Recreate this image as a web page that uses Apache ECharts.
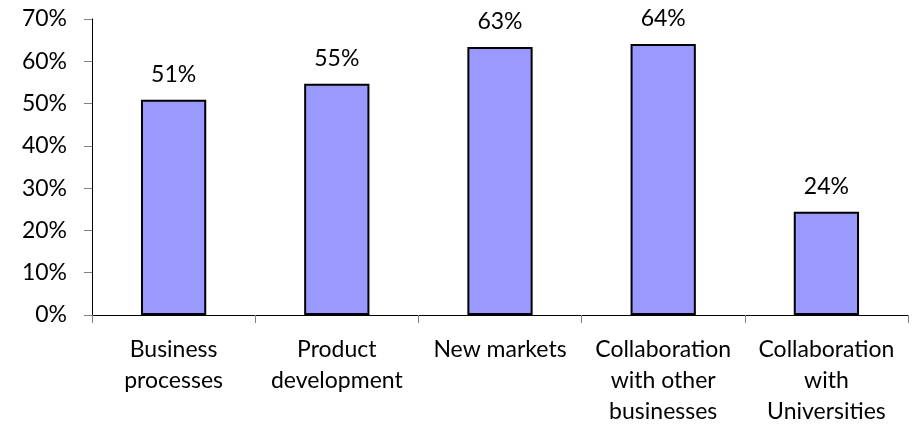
<!DOCTYPE html>
<html><head><meta charset="utf-8">
<script src="https://cdn.jsdelivr.net/npm/echarts@6/dist/echarts.min.js"></script>
<style>html,body{margin:0;padding:0;background:#fff}#c{width:914px;height:427px}</style>
</head><body><div id="c"></div>
<script>
const categories = ["Business\nprocesses", "Product\ndevelopment", "New markets", "Collaboration\nwith other\nbusinesses", "Collaboration\nwith\nUniversities"];
const values = [50.9, 54.7, 63.4, 64.1, 24.4];
const yTicks = [0, 10, 20, 30, 40, 50, 60, 70];
const FONT = "Lato";
const FS = 23;
const chart = echarts.init(document.getElementById('c'));
chart.setOption({
  animation: false,
  grid: {left: 92, right: 6, top: 19, bottom: 110.5},
  xAxis: {
    type: 'category', data: categories,
    axisLine: {lineStyle: {color: '#000', width: 1}},
    axisTick: {show: true, length: 8, lineStyle: {color: '#808080'}},
    axisLabel: {color: '#000', fontFamily: FONT, fontSize: FS, lineHeight: 31, margin: 19, interval: 0}
  },
  yAxis: {
    type: 'value', min: yTicks[0], max: yTicks[yTicks.length - 1], interval: 10,
    splitLine: {show: false},
    axisLine: {show: true, lineStyle: {color: '#000', width: 1}},
    axisTick: {show: true, length: 8, lineStyle: {color: '#808080'}},
    axisLabel: {color: '#000', fontFamily: FONT, fontSize: FS, margin: 25, formatter: v => v + '%'}
  },
  series: [{
    type: 'bar', data: values, barWidth: '40%',
    itemStyle: {color: '#9999FF', borderColor: '#000', borderWidth: 2},
    label: {show: true, position: 'top', distance: 14, color: '#000', fontFamily: FONT, fontSize: FS,
      formatter: p => Math.round(p.value) + '%'}
  }]
});
</script></body></html>
